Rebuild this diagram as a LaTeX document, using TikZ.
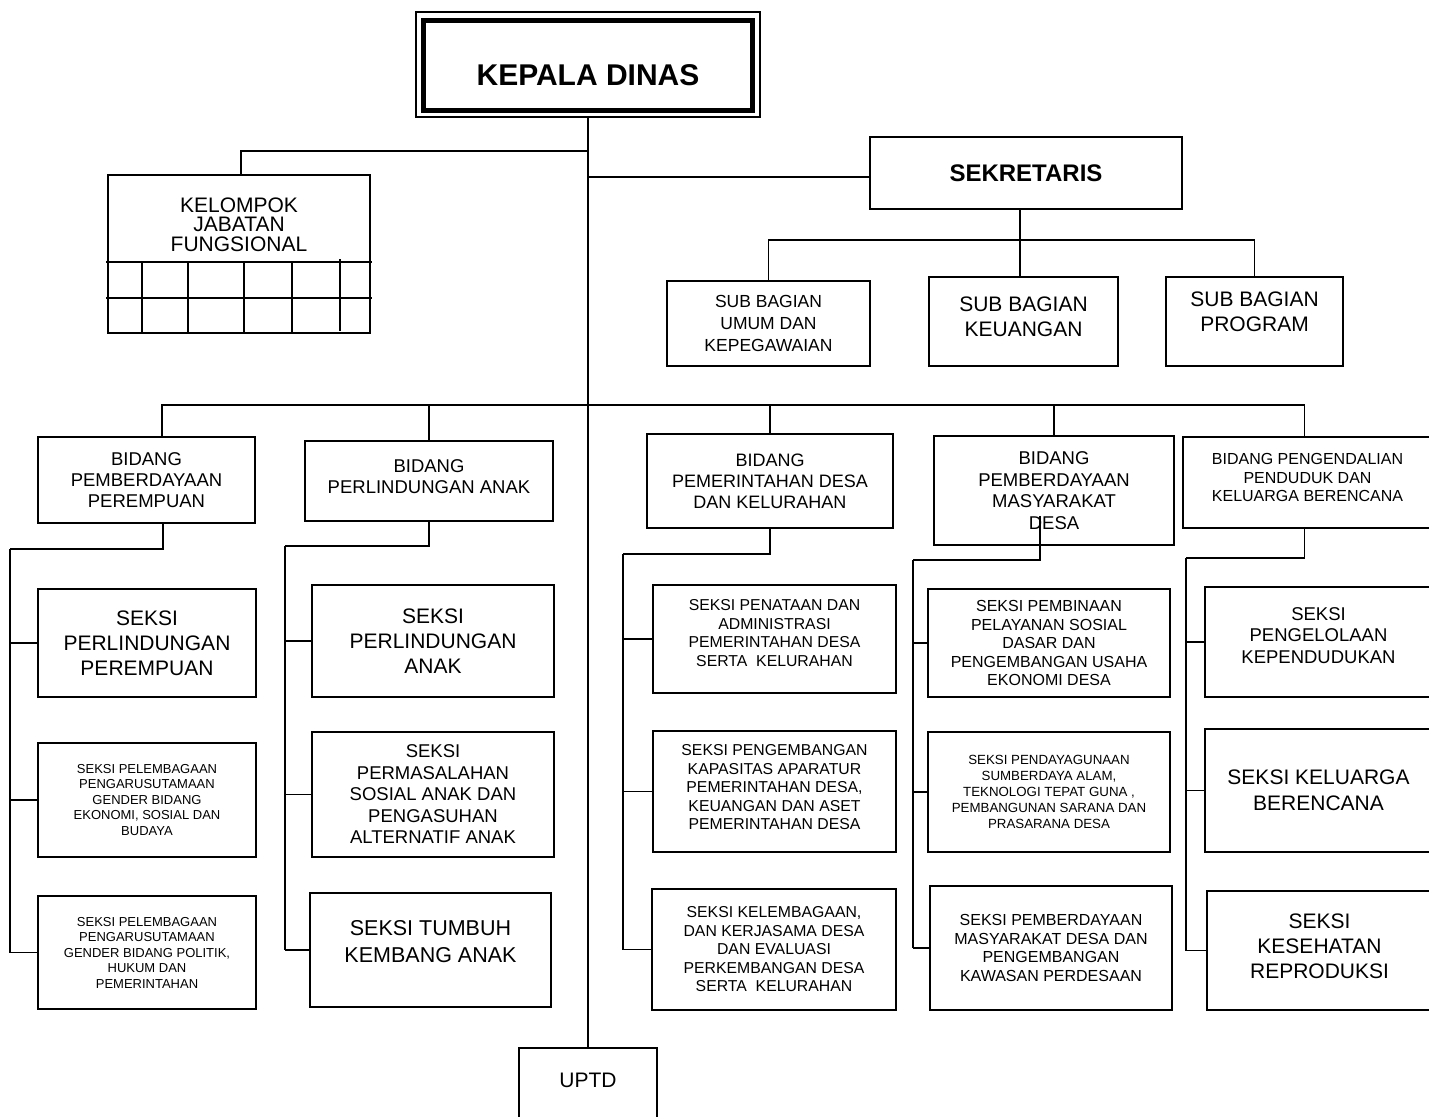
\documentclass[tikz,border=0pt]{standalone}
\usepackage{fontspec}
\setmainfont{Liberation Sans}
\newcommand\fs[2]{\fontsize{#1}{#2}\selectfont}
\newcommand\up[1]{\rule[-#1]{0pt}{0pt}}
\newcommand\dn[1]{\rule{0pt}{#1}}
\newcommand\orgbox[7][]{%
  \pgfmathsetmacro\bw{#5-#3}\pgfmathsetmacro\bh{#6-#4}%
  \node[box,minimum width=\bw pt,minimum height=\bh pt,#1] (#2) at ({(#3+#5)/2},{(#4+#6)/2}) {#7};}
\tikzset{
  box/.style={draw=black,line width=1.7pt,rectangle,inner sep=0pt,align=center,fill=white},
  conn/.style={draw=black,line width=1.7pt},
  gridline/.style={draw=black,line width=1.1pt},
}
\begin{document}
\begin{tikzpicture}[x=1pt,y=-1pt]
\useasboundingbox (0,0) rectangle (1429,1116);
\clip (0,0) rectangle (1429,1116);
\fill[white] (0,0) rectangle (1429,1116);

% coordinates for connector corners
\coordinate (jk) at (588,151);
\coordinate (js) at (588,177);
\coordinate (sb) at (1020,240);
\coordinate (bb) at (588,405);
\coordinate (r1) at (10,549);
\coordinate (r2) at (285,546);
\coordinate (r3) at (623,554);
\coordinate (r4) at (913,560);
\coordinate (r5) at (1186,558);

% Kepala Dinas and UPTD with the main vertical line
\orgbox[font=\bfseries\fs{30}{36},line width=1.3pt]{kd}{416}{12}{760}{117}{\dn{43pt}KEPALA DINAS}
\orgbox[font=\fs{21}{24}]{uptd}{519}{1048}{657}{1130}{UPTD\up{18pt}}
\draw[conn] (kd.south) -- (uptd.north);
\draw[line width=5pt] ([xshift=8.5pt,yshift=-9pt]kd.north west) rectangle ([xshift=-8.5pt,yshift=7pt]kd.south east);

% Kelompok jabatan fungsional
\orgbox[font=\fs{21}{19.5}]{kjf}{108}{175}{370}{333}{KELOMPOK\\JABATAN\\FUNGSIONAL\up{59pt}}
\draw[conn] (jk) -| ([xshift=2pt]kjf.north);
\draw[gridline] (106,262) -- (372,262);
\draw[gridline] (106,298) -- (372,298);
\foreach \gx in {142,188,244,292}{\draw[gridline] (\gx,262) -- (\gx,333);}
\draw[gridline] (340,259) -- (340,331);

% Sekretaris
\orgbox[font=\bfseries\fs{24}{27}]{sek}{870}{137}{1182}{209}{SEKRETARIS}
\draw[conn] (js) -- (js -| sek.west);
\orgbox[font=\fs{17.5}{22}]{umum}{667}{281}{870}{366}{SUB BAGIAN\\UMUM DAN\\KEPEGAWAIAN}
\orgbox[font=\fs{21}{25}]{keu}{929}{277}{1118}{366}{SUB BAGIAN\\KEUANGAN\up{10pt}}
\orgbox[font=\fs{21}{25}]{prog}{1166}{277}{1343}{366}{SUB BAGIAN\\PROGRAM\up{19pt}}
\draw[conn] ([xshift=-6pt]sek.south) -- ([xshift=-6pt]sek.south |- keu.north);
\draw[conn] (umum.north) |- (sb) -| (prog.north);

% Bidang
\orgbox[font=\fs{18.5}{21}]{b1}{38}{437}{255}{523}{BIDANG\\PEMBERDAYAAN\\PEREMPUAN}
\orgbox[font=\fs{18.5}{21}]{b2}{305}{441}{553}{521}{BIDANG\\PERLINDUNGAN ANAK\up{9pt}}
\orgbox[font=\fs{18}{21}]{b3}{647}{434}{893}{528}{BIDANG\\PEMERINTAHAN DESA\\DAN KELURAHAN}
\orgbox[font=\fs{18.5}{21.5}]{b4}{934}{436}{1174}{545}{BIDANG\\PEMBERDAYAAN\\MASYARAKAT\\DESA}
\orgbox[font=\fs{16}{18.5}]{b5}{1183}{437}{1432}{528}{BIDANG PENGENDALIAN\\PENDUDUK DAN\\KELUARGA BERENCANA\up{10pt}}
\draw[conn] ([xshift=15.5pt]b1.north) |- (bb) -| ([xshift=-3pt]b5.north);
\draw[conn] (b2.north) -- (b2.north |- bb);
\draw[conn] (b3.north) -- (b3.north |- bb);
\draw[conn] (b4.north) -- (b4.north |- bb);

% Seksi - Bidang 1
\orgbox[font=\fs{21}{25}]{s1a}{38}{589}{256}{697}{SEKSI\\PERLINDUNGAN\\PEREMPUAN}
\orgbox[font=\fs{13}{15.5}]{s1b}{38}{743}{256}{857}{SEKSI PELEMBAGAAN\\PENGARUSUTAMAAN\\GENDER BIDANG\\EKONOMI, SOSIAL DAN\\BUDAYA}
\orgbox[font=\fs{13}{15.5}]{s1c}{38}{896}{256}{1009}{SEKSI PELEMBAGAAN\\PENGARUSUTAMAAN\\GENDER BIDANG POLITIK,\\HUKUM DAN\\PEMERINTAHAN}
\draw[conn] ([xshift=16.5pt]b1.south) |- (r1);
\draw[conn] (r1) -- (r1 |- s1c.west);
\draw[conn] (r1 |- s1a.west) -- (s1a.west);
\draw[conn] (r1 |- s1b.west) -- (s1b.west);
\draw[conn] (r1 |- s1c.west) -- (s1c.west);

% Seksi - Bidang 2
\orgbox[font=\fs{21}{25}]{s2a}{312}{585}{554}{697}{SEKSI\\PERLINDUNGAN\\ANAK}
\orgbox[font=\fs{18.5}{21.5}]{s2b}{312}{732}{554}{857}{SEKSI\\PERMASALAHAN\\SOSIAL ANAK DAN\\PENGASUHAN\\ALTERNATIF ANAK}
\orgbox[font=\fs{21.5}{26.5}]{s2c}{310}{893}{551}{1007}{SEKSI TUMBUH\\KEMBANG ANAK\up{17pt}}
\draw[conn] (b2.south) |- (r2);
\draw[conn] (r2) -- (r2 |- s2c.west);
\draw[conn] (r2 |- s2a.west) -- (s2a.west);
\draw[conn] (r2 |- s2b.west) -- (s2b.west);
\draw[conn] (r2 |- s2c.west) -- (s2c.west);

% Seksi - Bidang 3
\orgbox[font=\fs{15.8}{18.5}]{s3a}{653}{585}{896}{693}{SEKSI PENATAAN DAN\\ADMINISTRASI\\PEMERINTAHAN DESA\\SERTA\ \ KELURAHAN\up{12pt}}
\orgbox[font=\fs{15.8}{18.5}]{s3b}{653}{731}{896}{852}{SEKSI PENGEMBANGAN\\KAPASITAS APARATUR\\PEMERINTAHAN DESA,\\KEUANGAN DAN ASET\\PEMERINTAHAN DESA\up{9pt}}
\orgbox[font=\fs{15.8}{18.5}]{s3c}{652}{889}{896}{1010}{SEKSI KELEMBAGAAN,\\DAN KERJASAMA DESA\\DAN EVALUASI\\PERKEMBANGAN DESA\\SERTA\ \ KELURAHAN}
\draw[conn] (b3.south) |- (r3);
\draw[conn] (r3) -- (r3 |- s3c.west);
\draw[conn] (r3 |- s3a.west) -- (s3a.west);
\draw[conn] (r3 |- s3b.west) -- (s3b.west);
\draw[conn] (r3 |- s3c.west) -- (s3c.west);

% Seksi - Bidang 4
\orgbox[font=\fs{16}{18.5}]{s4a}{928}{589}{1170}{697}{SEKSI PEMBINAAN\\PELAYANAN SOSIAL\\DASAR DAN\\PENGEMBANGAN USAHA\\EKONOMI DESA}
\orgbox[font=\fs{13.3}{16}]{s4b}{928}{732}{1170}{852}{SEKSI PENDAYAGUNAAN\\SUMBERDAYA ALAM,\\TEKNOLOGI TEPAT GUNA ,\\PEMBANGUNAN SARANA DAN\\PRASARANA DESA}
\orgbox[font=\fs{16}{18.8}]{s4c}{930}{886}{1172}{1010}{SEKSI PEMBERDAYAAN\\MASYARAKAT DESA DAN\\PENGEMBANGAN\\KAWASAN PERDESAAN}
\draw[conn] ([xshift=-14pt,yshift=30pt]b4.south) |- (r4);
\draw[conn] (r4) -- (r4 |- s4c.west);
\draw[conn] (r4 |- s4a.west) -- (s4a.west);
\draw[conn] (r4 |- s4b.west) -- (s4b.west);
\draw[conn] (r4 |- s4c.west) -- (s4c.west);

% Seksi - Bidang 5
\orgbox[font=\fs{18.5}{21.5}]{s5a}{1205}{587}{1432}{697}{SEKSI\\PENGELOLAAN\\KEPENDUDUKAN\up{13pt}}
\orgbox[font=\fs{21}{26}]{s5b}{1205}{729}{1432}{852}{SEKSI KELUARGA\\BERENCANA}
\orgbox[font=\fs{21}{25}]{s5c}{1207}{891}{1432}{1010}{SEKSI\\KESEHATAN\\REPRODUKSI\up{8pt}}
\draw[conn] ([xshift=-3pt]b5.south) |- (r5);
\draw[conn] (r5) -- (r5 |- s5c.west);
\draw[conn] (r5 |- s5a.west) -- (s5a.west);
\draw[conn] (r5 |- s5b.west) -- (s5b.west);
\draw[conn] (r5 |- s5c.west) -- (s5c.west);
\end{tikzpicture}
\end{document}
